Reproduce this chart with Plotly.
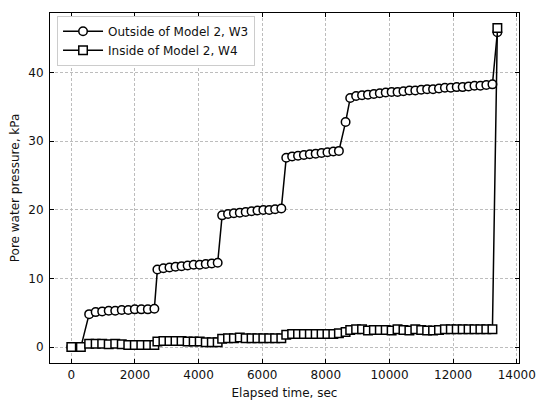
import plotly.graph_objects as go

# Elapsed time of each reading (sec), shared by both piezometers
time_sec = [
    0, 300,
    560, 765, 970, 1175, 1380, 1585, 1790, 1995, 2200, 2405, 2610,
    2705, 2895, 3085, 3275, 3465, 3655, 3845, 4035, 4225, 4415, 4600,
    4740, 4925, 5110, 5295, 5480, 5665, 5850, 6035, 6220, 6405, 6600,
    6755, 6940, 7125, 7310, 7495, 7680, 7865, 8050, 8235, 8410,
    8620,
    8765, 8951, 9137, 9323, 9509, 9695, 9881, 10067, 10253, 10439, 10625,
    10811, 10997, 11183, 11369, 11555, 11741, 11927, 12113, 12299, 12485,
    12671, 12857, 13043, 13235,
    13390,
]

# Pore water pressure outside of Model 2 (W3), kPa
w3_kpa = [
    0.0, 0.0,
    4.8, 5.1, 5.2, 5.3, 5.3, 5.4, 5.4, 5.5, 5.5, 5.5, 5.6,
    11.3, 11.5, 11.6, 11.7, 11.8, 11.9, 12.0, 12.0, 12.1, 12.2, 12.3,
    19.2, 19.4, 19.5, 19.6, 19.7, 19.8, 19.9, 20.0, 20.0, 20.1, 20.2,
    27.6, 27.8, 27.9, 28.0, 28.1, 28.2, 28.3, 28.4, 28.5, 28.6,
    32.8,
    36.3, 36.6, 36.7, 36.8, 36.9, 37.0, 37.1, 37.2, 37.2, 37.3, 37.4,
    37.4, 37.5, 37.6, 37.6, 37.7, 37.8, 37.8, 37.9, 37.9, 38.0,
    38.1, 38.1, 38.2, 38.3,
    45.9,
]

# Pore water pressure inside of Model 2 (W4), kPa
w4_kpa = [
    0.0, 0.0,
    0.5, 0.5, 0.5, 0.4, 0.5, 0.4, 0.3, 0.3, 0.3, 0.3, 0.3,
    0.8, 0.9, 0.9, 0.9, 0.9, 0.8, 0.8, 0.8, 0.7, 0.7, 0.7,
    1.2, 1.3, 1.3, 1.4, 1.3, 1.3, 1.3, 1.3, 1.3, 1.3, 1.3,
    1.8, 1.9, 1.9, 1.9, 1.9, 1.9, 1.9, 1.9, 1.9, 2.0,
    2.2,
    2.5, 2.6, 2.6, 2.4, 2.5, 2.5, 2.5, 2.4, 2.6, 2.5, 2.4,
    2.6, 2.5, 2.4, 2.4, 2.5, 2.6, 2.6, 2.6, 2.6, 2.6,
    2.6, 2.6, 2.6, 2.6,
    46.5,
]

x_ticks = [0, 2000, 4000, 6000, 8000, 10000, 12000, 14000]
x_tick_labels = ["0", "2000", "4000", "6000", "8000", "10000", "12000", "14000"]
y_ticks = [0, 10, 20, 30, 40]
y_tick_labels = ["0", "10", "20", "30", "40"]

FONT = dict(family="DejaVu Sans", size=12, color="#111111")

fig = go.Figure()
fig.add_trace(go.Scatter(
    x=time_sec, y=w3_kpa, mode="lines+markers", name="Outside of Model 2, W3",
    line=dict(color="black", width=1.5),
    marker=dict(symbol="circle", size=8.5, color="white",
                line=dict(color="black", width=1.5)),
))
fig.add_trace(go.Scatter(
    x=time_sec, y=w4_kpa, mode="lines+markers", name="Inside of Model 2, W4",
    line=dict(color="black", width=1.5),
    marker=dict(symbol="square", size=8.5, color="white",
                line=dict(color="black", width=1.5)),
))

axis_common = dict(
    showline=True, linecolor="black", linewidth=1, mirror="ticks",
    ticks="inside", ticklen=4, tickwidth=1, tickcolor="black",
    showgrid=True, gridcolor="#bdbdbd", gridwidth=0.8, griddash="3px,2px",
    zeroline=False, tickfont=FONT, automargin=False,
)

fig.update_layout(
    width=537, height=400,
    margin=dict(l=50, r=18, t=13, b=37),
    paper_bgcolor="white", plot_bgcolor="white",
    font=FONT,
    xaxis=dict(range=[-670, 14070], tickvals=x_ticks, ticktext=x_tick_labels,
               ticklabelstandoff=1,
               title=dict(text="Elapsed time, sec", font=FONT, standoff=7),
               **axis_common),
    yaxis=dict(range=[-2.32, 48.7], tickvals=y_ticks, ticktext=y_tick_labels,
               ticklabelstandoff=3,
               title=dict(text="Pore water pressure, kPa", font=FONT, standoff=6),
               **axis_common),
    legend=dict(x=0.015, y=0.992, xanchor="left", yanchor="top",
                bgcolor="white", bordercolor="#cccccc", borderwidth=1,
                font=FONT, tracegroupgap=0, itemwidth=40),
    showlegend=True,
)

fig.write_html("out.html")
